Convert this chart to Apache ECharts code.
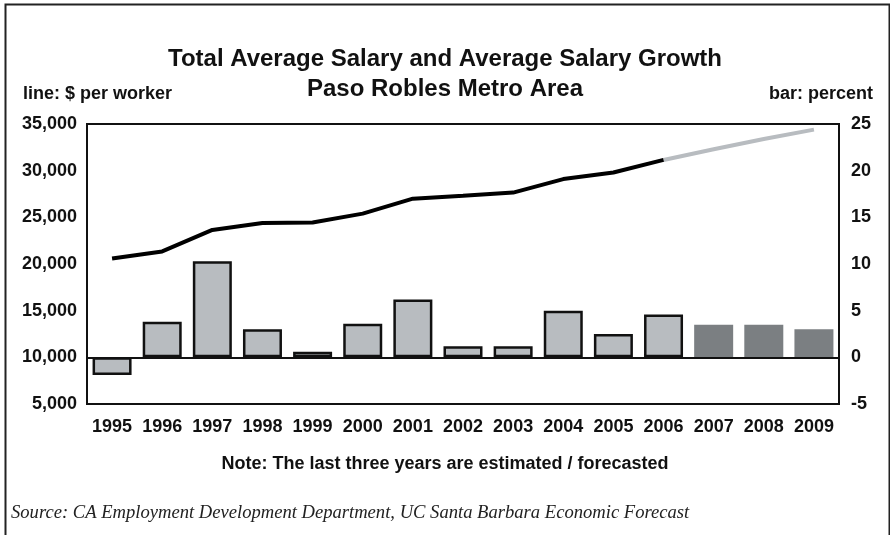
<!DOCTYPE html>
<html>
<head>
<meta charset="utf-8">
<script src="https://cdn.jsdelivr.net/npm/echarts@6/dist/echarts.min.js"></script>
<style>
  html, body { margin: 0; padding: 0; background: #fff; }
  #chart { width: 890px; height: 535px; }
</style>
</head>
<body>
<div id="chart"></div>
<script>
// data
var years = ["1995", "1996", "1997", "1998", "1999", "2000", "2001", "2002", "2003", "2004", "2005", "2006", "2007", "2008", "2009"];
var salary = [20600, 21350, 23650, 24400, 24450, 25400, 27000, 27300, 27650, 29100, 29800, 31150, 32300, 33400, 34400];
var growth = [-1.9, 3.8, 10.3, 3.0, 0.6, 3.6, 6.2, 1.2, 1.2, 5.0, 2.5, 4.6, 3.5, 3.5, 3.0];
var forecastStart = 12; // 2007, 2008, 2009 are estimated

var font = "Liberation Sans";
var labelStyle = { fontFamily: font, fontWeight: "bold", fontSize: 18, color: "#111" };

// line is split in two pieces: actual (black) and forecast (grey)
var salaryActual = salary.map(function (v, i) { return i < forecastStart ? v : null; });
var salaryForecast = salary.map(function (v, i) { return i >= forecastStart - 1 ? v : null; });

var barData = growth.map(function (v, i) {
  if (i >= forecastStart) {
    return { value: v, itemStyle: { color: "#7b7f82", borderWidth: 0 } };
  }
  return { value: v, itemStyle: { color: "#b8bcc0", borderColor: "#111", borderWidth: 2.5 } };
});

var myChart = echarts.init(document.getElementById("chart"));
var option = {
  backgroundColor: "#fff",
  animation: false,
  title: [
    {
      text: "Total Average Salary and Average Salary Growth",
      left: "center", top: 42,
      textStyle: { fontFamily: font, fontWeight: "bold", fontSize: 24, color: "#111" }
    },
    {
      text: "Paso Robles Metro Area",
      left: "center", top: 72,
      textStyle: { fontFamily: font, fontWeight: "bold", fontSize: 24, color: "#111" }
    },
    { text: "line: $ per worker", left: 18, top: 80, textStyle: labelStyle },
    { text: "bar: percent", right: 12, top: 80, textStyle: labelStyle },
    { text: "Note: The last three years are estimated / forecasted", left: "center", top: 450, textStyle: labelStyle },
    {
      text: "Source: CA Employment Development Department, UC Santa Barbara Economic Forecast",
      left: 6, top: 499,
      textStyle: { fontFamily: "Liberation Serif", fontStyle: "italic", fontWeight: "normal", fontSize: 18.6, color: "#222" }
    }
  ],
  graphic: [
    {
      type: "rect", left: 3, top: 2, silent: true,
      shape: { width: 884, height: 560 },
      style: { fill: null, stroke: "#222", lineWidth: 2 }
    }
  ],
  grid: {
    left: 87, right: 51, top: 124, bottom: 131,
    show: true, borderColor: "#111", borderWidth: 2, backgroundColor: "transparent"
  },
  xAxis: {
    type: "category",
    data: years,
    axisLine: { show: false },
    axisTick: { show: false },
    axisLabel: Object.assign({ margin: 14, interval: 0 }, labelStyle),
    splitLine: { show: false }
  },
  yAxis: [
    {
      type: "value", min: 5000, max: 35000, interval: 5000,
      axisLine: { show: false }, axisTick: { show: false }, splitLine: { show: false },
      axisLabel: Object.assign({
        margin: 10,
        formatter: function (v) { return v.toLocaleString("en-US"); }
      }, labelStyle)
    },
    {
      type: "value", min: -5, max: 25, interval: 5,
      axisLine: { show: false }, axisTick: { show: false }, splitLine: { show: false },
      axisLabel: Object.assign({ margin: 12 }, labelStyle)
    }
  ],
  series: [
    {
      name: "growth", type: "bar", yAxisIndex: 1,
      data: barData,
      barWidth: 39,
      markLine: {
        silent: true, symbol: "none",
        label: { show: false },
        lineStyle: { color: "#111", width: 2, type: "solid" },
        data: [{ yAxis: 0 }]
      }
    },
    {
      name: "salary", type: "line", yAxisIndex: 0,
      data: salaryActual, showSymbol: false,
      lineStyle: { color: "#000", width: 4 }, z: 5
    },
    {
      name: "salary forecast", type: "line", yAxisIndex: 0,
      data: salaryForecast, showSymbol: false,
      lineStyle: { color: "#b8bcc0", width: 4 }, z: 4
    }
  ]
};
myChart.setOption(option);
</script>
</body>
</html>
